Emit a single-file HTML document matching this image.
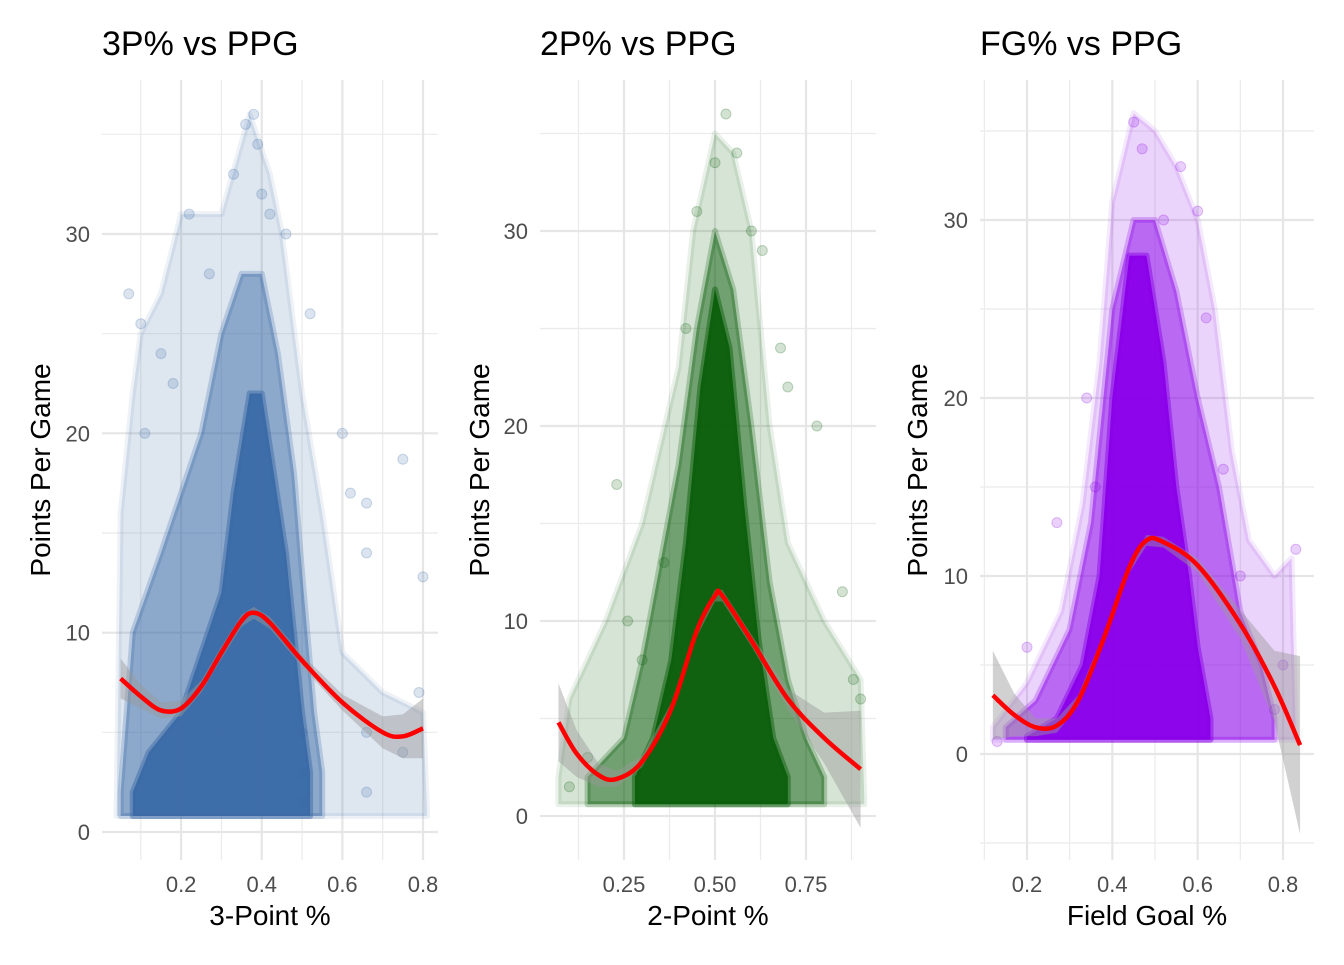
<!DOCTYPE html>
<html><head><meta charset="utf-8"><style>
body{margin:0;background:#fff;}
svg text{font-family:"Liberation Sans",Arial,sans-serif;}
</style></head><body>
<svg id="chart" width="1344" height="960" xmlns="http://www.w3.org/2000/svg"></svg>
<script>
// ---- Panel 1: 3P% vs PPG ----
const p1SmoothX=[0.05,0.1,0.15,0.2,0.25,0.3,0.35,0.38,0.42,0.5,0.6,0.7,0.75,0.8];
const p1SmoothY=[7.7,6.8,6.1,6.2,7.3,9.0,10.6,11.0,10.5,8.6,6.5,5.0,4.8,5.2];
const p1SE=[1.0,0.6,0.4,0.4,0.3,0.3,0.3,0.3,0.3,0.3,0.4,0.8,1.1,1.5];
const p1EnvX=[0.04,0.05,0.08,0.1,0.15,0.2,0.3,0.37,0.42,0.45,0.5,0.55,0.6,0.7,0.8,0.81];
const p1EnvHi=[1,16,22,25,27,31,31,36,33,30,22,16,9,7,6,1];
const p1MidX=[0.05,0.08,0.15,0.2,0.25,0.3,0.35,0.4,0.44,0.48,0.5,0.53,0.55];
const p1MidHi=[2,10,14,17,20,25,28,28,24,18,13,6,3];
const p1CoreX=[0.08,0.12,0.2,0.25,0.3,0.33,0.37,0.4,0.43,0.46,0.48,0.5,0.52];
const p1CoreHi=[2,4,6,9,12,17,22,22,18,14,10,6,3];
const p1PtX=[0.07,0.1,0.11,0.15,0.18,0.22,0.27,0.33,0.36,0.38,0.39,0.4,0.42,0.46,0.52,0.6,0.62,0.66,0.66,0.75,0.8,0.79,0.5,0.5,0.66,0.75,0.5,0.66];
const p1PtY=[27,25.5,20,24,22.5,31,28,33,35.5,36,34.5,32,31,30,26,20,17,16.5,14,18.7,12.8,7,5,3,5,4,1.5,2];
// ---- Panel 2: 2P% vs PPG ----
const p2SmoothX=[0.07,0.12,0.18,0.23,0.3,0.38,0.45,0.5,0.52,0.6,0.7,0.8,0.9];
const p2SmoothY=[4.8,3.2,2.1,1.9,2.8,5.5,9.5,11.3,11.3,9.0,6.0,4.0,2.4];
const p2SE=[2.0,1.2,0.6,0.4,0.3,0.3,0.3,0.3,0.3,0.3,0.5,1.3,3.0];
const p2EnvX=[0.07,0.1,0.2,0.3,0.4,0.44,0.5,0.55,0.6,0.65,0.7,0.8,0.9,0.91];
const p2EnvHi=[2,6,10,15,23,30,35,34,30,20,14,10,7,1];
const p2MidX=[0.15,0.25,0.3,0.35,0.4,0.45,0.5,0.55,0.6,0.65,0.7,0.75,0.8];
const p2MidHi=[2,4,8,13,18,25,30,27,20,12,7,4,2];
const p2CoreX=[0.28,0.33,0.38,0.42,0.46,0.5,0.54,0.58,0.62,0.66,0.7];
const p2CoreHi=[2,4,8,14,22,27,24,16,9,4,2];
const p2PtX=[0.23,0.26,0.3,0.36,0.42,0.45,0.5,0.53,0.56,0.6,0.63,0.68,0.7,0.78,0.85,0.88,0.9,0.1,0.15];
const p2PtY=[17,10,8,13,25,31,33.5,36,34,30,29,24,22,20,11.5,7,6,1.5,3];
// ---- Panel 3: FG% vs PPG ----
const p3SmoothX=[0.12,0.17,0.22,0.27,0.32,0.38,0.44,0.48,0.52,0.6,0.7,0.78,0.84];
const p3SmoothY=[3.3,2.2,1.5,1.6,3.0,6.5,10.5,12.0,11.9,10.6,7.3,3.8,0.5];
const p3SE=[2.5,1.2,0.5,0.4,0.3,0.3,0.3,0.3,0.3,0.4,0.8,2.0,5.0];
const p3EnvX=[0.12,0.2,0.28,0.33,0.37,0.4,0.45,0.5,0.55,0.6,0.64,0.68,0.72,0.78,0.82,0.83];
const p3EnvHi=[1.5,4,8,14,22,31,36,35,33,30,25,17,12,10,11,1];
const p3MidX=[0.15,0.22,0.3,0.35,0.4,0.45,0.5,0.55,0.6,0.65,0.7,0.75,0.78];
const p3MidHi=[1.5,3,7,13,25,30,30,26,20,15,8,5,2];
const p3CoreX=[0.2,0.27,0.33,0.37,0.4,0.44,0.48,0.52,0.55,0.58,0.6,0.63];
const p3CoreHi=[1,2,5,10,20,28,28,22,15,10,6,2];
const p3PtX=[0.13,0.2,0.27,0.34,0.36,0.45,0.47,0.52,0.56,0.6,0.62,0.66,0.7,0.78,0.83,0.8];
const p3PtY=[0.7,6,13,20,15,35.5,34,30,33,30.5,24.5,16,10,2.5,11.5,5];
const xTicks1=[0.2,0.4,0.6,0.8], xMinor1=[0.1,0.3,0.5,0.7];
const xTicks2=[0.25,0.5,0.75], xMinor2=[0.125,0.375,0.625,0.875];
const xTicks3=[0.2,0.4,0.6,0.8], xMinor3=[0.1,0.3,0.5,0.7];
const yTicks12=[0,10,20,30], yMinor12=[5,15,25,35];
const yTicks3=[0,10,20,30], yMinor3=[-5,5,15,25,35];

const NS="http://www.w3.org/2000/svg", svg=document.getElementById('chart');
function el(tag,attrs,parent){const e=document.createElementNS(NS,tag);for(const k in attrs)e.setAttribute(k,attrs[k]);(parent||svg).appendChild(e);return e;}

const panels=[
 {name:'3p',title:'3P% vs PPG',xlab:'3-Point %',color:'#3a6aa6',L:102,R:438,T:80,B:860,x0:0,x1:0.8,px0:100.5,px1:423,y0:0,y1:30,py0:832,py1:234,xt:xTicks1,xm:xMinor1,yt:yTicks12,ym:yMinor12,xlabFmt:v=>v.toFixed(1),
  sx:p1SmoothX,sy:p1SmoothY,se:p1SE,env:[p1EnvX,p1EnvHi],mid:[p1MidX,p1MidHi],core:[p1CoreX,p1CoreHi],low:0.8,ptx:p1PtX,pty:p1PtY,titleX:102,ylabX:50},
 {name:'2p',title:'2P% vs PPG',xlab:'2-Point %',color:'#0b5e0b',L:540,R:876,T:80,B:860,x0:0.25,x1:0.75,px0:624,px1:806,y0:0,y1:30,py0:816,py1:231,xt:xTicks2,xm:xMinor2,yt:yTicks12,ym:yMinor12,xlabFmt:v=>v.toFixed(2),
  sx:p2SmoothX,sy:p2SmoothY,se:p2SE,env:[p2EnvX,p2EnvHi],mid:[p2MidX,p2MidHi],core:[p2CoreX,p2CoreHi],low:0.6,ptx:p2PtX,pty:p2PtY,titleX:540,ylabX:489},
 {name:'fg',title:'FG% vs PPG',xlab:'Field Goal %',color:'#8a00ea',L:980,R:1314,T:80,B:860,x0:0.2,x1:0.8,px0:1027,px1:1283,y0:0,y1:30,py0:754,py1:220,xt:xTicks3,xm:xMinor3,yt:yTicks3,ym:yMinor3,xlabFmt:v=>v.toFixed(1),
  sx:p3SmoothX,sy:p3SmoothY,se:p3SE,env:[p3EnvX,p3EnvHi],mid:[p3MidX,p3MidHi],core:[p3CoreX,p3CoreHi],low:0.8,ptx:p3PtX,pty:p3PtY,titleX:980,ylabX:927}
];

panels.forEach(p=>{
 const X=v=>p.px0+(v-p.x0)/(p.x1-p.x0)*(p.px1-p.px0);
 const Y=v=>p.py0+(v-p.y0)/(p.y1-p.y0)*(p.py1-p.py0);
 const g=el('g',{});  
 p.ym.forEach(v=>{const l=el('line',{x1:p.L,x2:p.R,y1:Y(v),y2:Y(v),stroke:'#ebebeb','stroke-width':1.2},g);});
 p.xm.forEach(v=>{const l=el('line',{x1:X(v),x2:X(v),y1:p.T,y2:p.B,stroke:'#ebebeb','stroke-width':1.2},g);});
 p.yt.forEach(v=>{const l=el('line',{x1:p.L,x2:p.R,y1:Y(v),y2:Y(v),stroke:'#e6e6e6','stroke-width':2.2},g);
  const t=el('text',{x:p.L-12,y:Y(v)+8,'text-anchor':'end','font-size':22,fill:'#4d4d4d'},g);t.textContent=v;});
 p.xt.forEach(v=>{const l=el('line',{x1:X(v),x2:X(v),y1:p.T,y2:p.B,stroke:'#e6e6e6','stroke-width':2.2},g);
  const t=el('text',{x:X(v),y:892,'text-anchor':'middle','font-size':22,fill:'#4d4d4d'},g);t.textContent=p.xlabFmt(v);});
 [[p.env,0.17],[p.mid,0.5],[p.core,0.95]].forEach(([b,op],i)=>{
  const pts=b[0].map((x,j)=>X(x)+','+Y(b[1][j])).concat(b[0].slice().reverse().map(x=>X(x)+','+Y(p.low)));
  const poly=el('polygon',{points:pts.join(' '),fill:p.color,'fill-opacity':op,'stroke':p.color,'stroke-opacity':op*0.5,'stroke-width':6,'stroke-linejoin':'round'},g);
  
 });
 p.ptx.forEach((x,i)=>{const c=el('circle',{cx:X(x),cy:Y(p.pty[i]),r:5,fill:p.color,'fill-opacity':0.18,stroke:p.color,'stroke-opacity':0.25},g);});
 const rp=p.sx.map((x,i)=>X(x)+','+Y(p.sy[i]+p.se[i])).concat(p.sx.map((x,i)=>X(x)+','+Y(p.sy[i]-p.se[i])).reverse());
 const rib=el('polygon',{points:rp.join(' '),fill:'#999','fill-opacity':0.45},g);
 const P=p.sx.map((x,i)=>[X(x),Y(p.sy[i])]);
 let d='M'+P[0][0]+','+P[0][1];
 for(let i=0;i<P.length-1;i++){const a=P[Math.max(0,i-1)],b=P[i],c=P[i+1],e=P[Math.min(P.length-1,i+2)];
  d+=' C'+(b[0]+(c[0]-a[0])/6)+','+(b[1]+(c[1]-a[1])/6)+' '+(c[0]-(e[0]-b[0])/6)+','+(c[1]-(e[1]-b[1])/6)+' '+c[0]+','+c[1];}
 const path=el('path',{d:d,fill:'none',stroke:'#ff0000','stroke-width':4.5},g);
 const ti=el('text',{x:p.titleX,y:55,'font-size':34,fill:'#000'},g);ti.textContent=p.title;
 const xl=el('text',{x:(p.L+p.R)/2,y:925,'text-anchor':'middle','font-size':28,fill:'#000'},g);xl.textContent=p.xlab;
 const yl=el('text',{x:0,y:0,'text-anchor':'middle','font-size':28,fill:'#000',transform:'translate('+p.ylabX+',470) rotate(-90)'},g);yl.textContent='Points Per Game';
});
</script>
</body></html>
